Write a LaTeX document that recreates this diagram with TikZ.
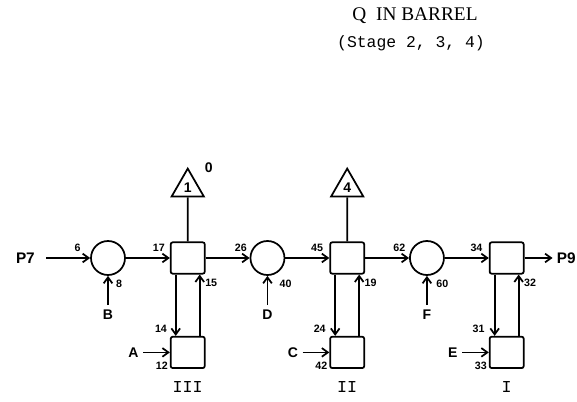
\documentclass[tikz,border=0pt]{standalone}
\usepackage{fontspec}
\setmainfont{Liberation Serif}
\setsansfont{Liberation Sans}
\setmonofont{Liberation Mono}
\usetikzlibrary{shapes.geometric, arrows.meta, positioning}

\begin{document}
\begin{tikzpicture}[
  x=0.75pt, y=-0.75pt,
  node distance = 33pt and 33pt,
  mixer/.style    = {circle, draw, line width=1.3pt,
                     minimum size=25.5pt, inner sep=0pt},
  stage/.style    = {rectangle, draw, line width=1.3pt, rounded corners=1.5pt,
                     minimum width=25.5pt, minimum height=23.5pt, inner sep=0pt},
  splitter/.style = {regular polygon, regular polygon sides=3, draw,
                     line width=1.3pt, minimum size=28pt, inner sep=0pt,
                     font=\sffamily\bfseries\fontsize{10.5}{12}\selectfont},
  feed/.style     = {font=\sffamily\bfseries\fontsize{10.5}{12}\selectfont},
  port/.style     = {font=\sffamily\bfseries\fontsize{11.5}{13}\selectfont},
  num/.style      = {font=\sffamily\bfseries\fontsize{8}{9}\selectfont, inner sep=1.5pt},
  roman/.style    = {font=\ttfamily\fontsize{12.5}{14}\selectfont},
  arr/.style      = {-{Straight Barb[length=4.5pt,width=6.5pt]}, line width=1.3pt},
  plain/.style    = {line width=1.3pt},
]
\useasboundingbox (0,0) rectangle (577,402);

% title
\node[font=\fontsize{14.5}{16}\selectfont] (ttl) at (415,16) {Q\ \ IN BARREL};
\node[font=\ttfamily\fontsize{12.3}{14}\selectfont] (sub) at (411,43) {(Stage 2, 3, 4)};

% main line
\node[mixer] (mix1) at (108,258) {};
\node[stage, right=of mix1] (stg3) {};
\node[mixer, right=of stg3] (mix2) {};
\node[stage, right=of mix2] (stg2) {};
\node[mixer, right=of stg2] (mix3) {};
\node[stage, right=of mix3] (stg1) {};

% lower stages
\node[stage, below=46pt of stg3] (low3) {};
\node[stage, below=46pt of stg2] (low2) {};
\node[stage, below=46pt of stg1] (low1) {};

% splitters
\node[splitter, above=33pt of stg3] (tri3) {1};
\node[splitter, above=33pt of stg2] (tri2) {4};
\node[feed, anchor=center] (zero) at ([xshift=15.75pt, yshift=-0.75pt]tri3.north) {0};

% feeds and ports
\node[port, left=38pt of mix1] (p7) {P7};
\node[port, inner sep=1pt, right=23pt of stg1] (p9) {P9};
\node[feed, below=22pt of mix1] (fdB) {B};
\node[feed, below=22pt of mix2] (fdD) {D};
\node[feed, below=22pt of mix3] (fdF) {F};
\node[feed, left=20pt of low3] (fdA) {A};
\node[feed, left=20pt of low2] (fdC) {C};
\node[feed, left=20pt of low1] (fdE) {E};

% stage names
\node[roman, below=6pt of low3] (nm3) {III};
\node[roman, below=6pt of low2] (nm2) {II};
\node[roman, below=6pt of low1] (nm1) {I};

% horizontal flow
\draw[arr, shorten <=5pt] (p7) -- node[num, above=3pt, pos=0.75]{6} (mix1);
\draw[arr] (mix1) -- node[num, above=3pt, pos=0.75]{17} (stg3);
\draw[arr] (stg3) -- node[num, above=3pt, pos=0.8]{26} (mix2);
\draw[arr] (mix2) -- node[num, above=3pt, pos=0.72]{45} (stg2);
\draw[arr] (stg2) -- node[num, above=3pt, pos=0.78]{62} (mix3);
\draw[arr] (mix3) -- node[num, above=3pt, pos=0.72]{34} (stg1);
\draw[arr, shorten >=2pt] (stg1) -- (p9);

% side feeds
\draw[arr] (fdB) -- node[num, right=4pt, pos=0.72]{8} (mix1);
\draw[arr] (fdD) -- node[num, right=7pt, pos=0.72]{40} (mix2);
\draw[arr] (fdF) -- node[num, right=5pt, pos=0.72]{60} (mix3);
\draw[arr] (fdA) -- node[num, below=5pt, pos=0.7]{12} (low3);
\draw[arr] (fdC) -- node[num, below=5pt, pos=0.7]{42} (low2);
\draw[arr] (fdE) -- node[num, below=5pt, pos=0.7]{33} (low1);

% splitter legs
\draw[plain] (stg3) -- (tri3);
\draw[plain] (stg2) -- (tri2);

% recycle loops
\draw[arr] ([xshift=-9pt]stg3.south) -- node[num, left=4.5pt, pos=0.88]{14} ([xshift=-9pt]low3.north);
\draw[arr] ([xshift=9pt]low3.north) -- node[num, right=2pt, pos=0.86]{15} ([xshift=9pt]stg3.south);
\draw[arr] ([xshift=-9pt]stg2.south) -- node[num, left=5pt, pos=0.88]{24} ([xshift=-9pt]low2.north);
\draw[arr] ([xshift=9pt]low2.north) -- node[num, right=2pt, pos=0.86]{19} ([xshift=9pt]stg2.south);
\draw[arr] ([xshift=-9pt]stg1.south) -- node[num, left=5.5pt, pos=0.88]{31} ([xshift=-9pt]low1.north);
\draw[arr] ([xshift=9pt]low1.north) -- node[num, right=2pt, pos=0.86]{32} ([xshift=9pt]stg1.south);
\end{tikzpicture}
\end{document}
